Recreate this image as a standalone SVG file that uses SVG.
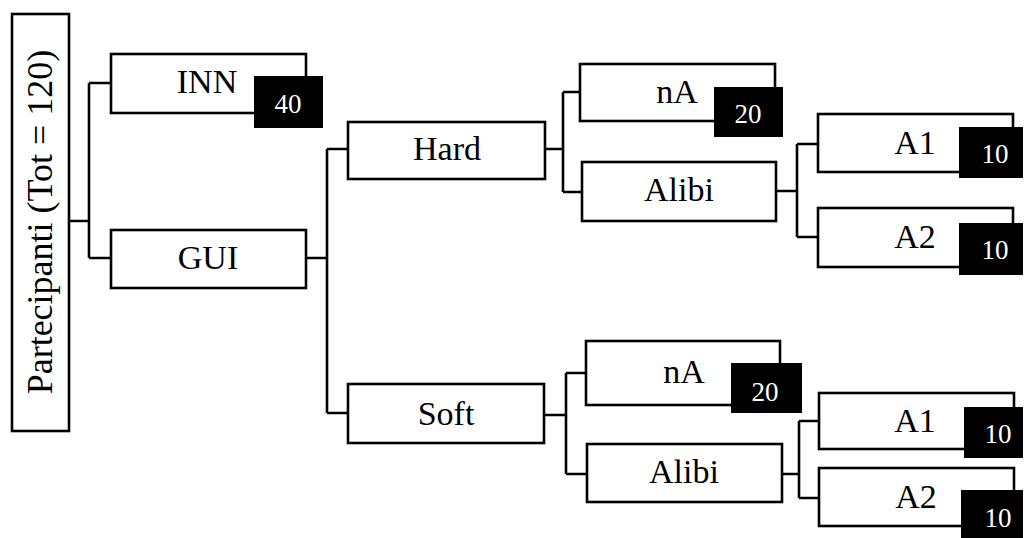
<svg xmlns="http://www.w3.org/2000/svg" width="1025" height="538" viewBox="0 0 1025 538">
<style>
.box{fill:#fff;stroke:#000;stroke-width:2.6}
.badge{fill:#000;stroke:none}
.lbl{font-family:"Liberation Serif","Times New Roman",serif;font-size:34px;fill:#000;text-anchor:middle}
.num{font-family:"Liberation Serif","Times New Roman",serif;font-size:27px;fill:#fff;text-anchor:middle}
.conn{fill:none;stroke:#000;stroke-width:2.6}
</style>
<rect width="1025" height="538" fill="#fff"/>
<g id="connectors" class="conn">
<path d="M70 221H89M89 83V258M89 83H110M89 258H110"/>
<path d="M307 258H327M327 149V413M327 149H347M327 413H347"/>
<path d="M546 149H563M563 92V192M563 92H579M563 192H581"/>
<path d="M777 191H797M797 144V237M797 144H817M797 237H817"/>
<path d="M545 415H566M566 373V474M566 373H586M566 474H586"/>
<path d="M783 474H799M799 421V498M799 421H818M799 498H818"/>
</g>
<g id="partecipanti">
<rect class="box" x="12" y="14" width="57" height="417"/>
<text class="lbl" style="font-size:36px" transform="translate(52,222) rotate(-90)">Partecipanti (Tot = 120)</text>
</g>
<g id="inn">
<rect class="box" x="111" y="54" width="195" height="59"/>
<text class="lbl" x="207" y="93">INN</text>
<rect class="badge" x="254" y="76" width="69" height="52"/>
<text class="num" x="288" y="113">40</text>
</g>
<g id="gui">
<rect class="box" x="111" y="230" width="195" height="58"/>
<text class="lbl" x="208" y="269">GUI</text>
</g>
<g id="hard">
<rect class="box" x="348" y="122" width="197" height="57"/>
<text class="lbl" x="447" y="160">Hard</text>
</g>
<g id="hard-na">
<rect class="box" x="580" y="64" width="195" height="57"/>
<text class="lbl" x="677" y="103">nA</text>
<rect class="badge" x="714" y="87" width="69" height="50"/>
<text class="num" x="748" y="123">20</text>
</g>
<g id="hard-alibi">
<rect class="box" x="582" y="162" width="194" height="59"/>
<text class="lbl" x="679" y="201">Alibi</text>
</g>
<g id="hard-a1">
<rect class="box" x="818" y="114" width="195" height="58"/>
<text class="lbl" x="915" y="154">A1</text>
<rect class="badge" x="959" y="127" width="64" height="51"/>
<text class="num" x="995" y="163">10</text>
</g>
<g id="hard-a2">
<rect class="box" x="818" y="208" width="195" height="59"/>
<text class="lbl" x="915" y="248">A2</text>
<rect class="badge" x="959" y="223" width="64" height="52"/>
<text class="num" x="995" y="259">10</text>
</g>
<g id="soft">
<rect class="box" x="348" y="384" width="196" height="59"/>
<text class="lbl" x="446" y="425">Soft</text>
</g>
<g id="soft-na">
<rect class="box" x="586" y="341" width="194" height="64"/>
<text class="lbl" x="684" y="383">nA</text>
<rect class="badge" x="731" y="363" width="71" height="50"/>
<text class="num" x="765" y="401">20</text>
</g>
<g id="soft-alibi">
<rect class="box" x="587" y="444" width="195" height="58"/>
<text class="lbl" x="684" y="483">Alibi</text>
</g>
<g id="soft-a1">
<rect class="box" x="819" y="393" width="195" height="56"/>
<text class="lbl" x="915" y="432">A1</text>
<rect class="badge" x="964" y="407" width="59" height="51"/>
<text class="num" x="998" y="443">10</text>
</g>
<g id="soft-a2">
<rect class="box" x="819" y="468" width="195" height="58"/>
<text class="lbl" x="916" y="508">A2</text>
<rect class="badge" x="961" y="490" width="62" height="48"/>
<text class="num" x="998" y="527">10</text>
</g>
</svg>
